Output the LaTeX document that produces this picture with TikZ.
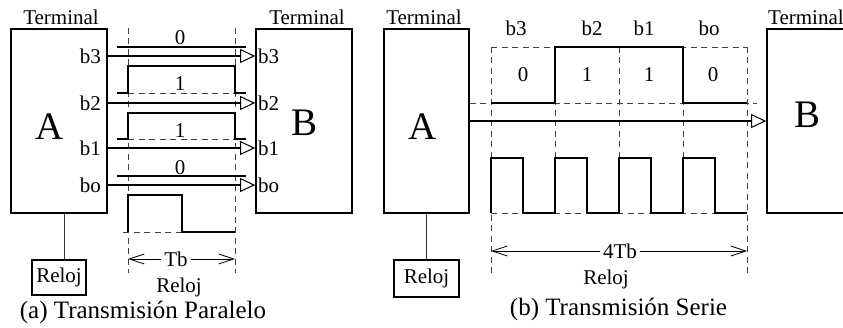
\documentclass[tikz,border=0pt]{standalone}
\usepackage{fontspec}
\setmainfont{Liberation Serif}
\usetikzlibrary{arrows.meta}
\newcommand\fsz[1]{\fontsize{#1}{#1}\selectfont}
\begin{document}
\begin{tikzpicture}[x=1pt,y=-1pt,
  box/.style={draw, line width=1.8pt, inner sep=0pt, rectangle},
  wave/.style={line width=1.8pt},
  guide/.style={draw=black!75, line width=0.8pt, dash pattern=on 6pt off 4.5pt},
  dim/.style={line width=0.8pt, {Straight Barb[length=15pt,width=10pt]}-{Straight Barb[length=15pt,width=10pt]}},
  sig/.style={line width=1.8pt, -{Triangle[open, length=15pt, width=14pt, line width=1pt, fill=white]}},
  conn/.style={draw=black!80, line width=1pt},
  lbl/.style={inner sep=0pt, font=\fsz{21}},
  big/.style={inner sep=0pt, font=\fsz{39}},
  captxt/.style={inner sep=0pt, font=\fsz{25}, anchor=base}]
\useasboundingbox (0,0) rectangle (843,328);

% ---------------- (a) parallel ----------------
\draw[guide] (128,28) -- (128,273);
\draw[guide] (235,28) -- (235,273);

\node[box, minimum width=96pt, minimum height=184pt] (A1) at (59,121) {};
\node[box, minimum width=96pt, minimum height=184pt] (B1) at (304,121) {};
\node[lbl, anchor=base] (tA1) at (61,25) {Terminal};
\node[lbl, anchor=base] (tB1) at (307,25) {Terminal};
\node[big] (LA1) at (50,127) {A};
\node[big] (LB1) at (305,123) {B};

\foreach \y/\t [count=\i] in {56/b3,103/b2,148/b1,185/bo} {
  \node[lbl, anchor=east] (la\i) at (101,\y) {\t};
  \node[lbl, anchor=west] (lb\i) at (258,\y) {\t};
  \draw[sig] (A1.east |- 0,\y) -- (B1.west |- 0,\y);
}

\draw[wave] (117,47) -- (246,47);
\node[lbl] (d0a) at (180,38) {0};
\draw[guide] (128,93) -- (235,93);
\draw[wave] (117,93) -- (128,93) -- (128,66) -- (235,66) -- (235,93) -- (246,93);
\node[lbl] (d1a) at (180,84) {1};
\draw[guide] (128,139) -- (235,139);
\draw[wave] (117,139) -- (128,139) -- (128,113) -- (235,113) -- (235,139) -- (246,139);
\node[lbl] (d2a) at (180,131) {1};
\draw[wave] (117,176) -- (246,176);
\node[lbl] (d3a) at (180,168) {0};

\draw[guide] (123,232) -- (182,232);
\draw[wave] (128,232) -- (128,195) -- (182,195) -- (182,232) -- (235,232);

\coordinate (tbL) at (128,259);
\coordinate (tbR) at (235,259);
\draw[dim] (tbL) -- (tbR);
\node[lbl, fill=white, inner xsep=3pt] (tb) at (176,259) {Tb};
\node[lbl, anchor=base] (rl1) at (179,293) {Reloj};

\node[box, minimum width=54pt, minimum height=35pt, font=\fsz{21}] (R1) at (59,277.5) {Reloj};
\draw[conn] (A1.south -| 64,0) -- (R1.north -| 64,0);

\node[captxt] (capa) at (143,319) {(a) Transmisión Paralelo};

% ---------------- (b) serial ----------------
\draw[guide] (491,47) -- (491,278);
\draw[guide] (747,47) -- (747,278);
\draw[guide] (555,47) -- (555,158);
\draw[guide] (619,47) -- (619,158);
\draw[guide] (683,47) -- (683,158);
\draw[guide] (491,47) -- (747,47);

\node[box, minimum width=85pt, minimum height=184pt] (A2) at (426.5,121) {};
\node[box, minimum width=110pt, minimum height=184pt] (B2) at (822,121) {};
\node[lbl, anchor=base] (tA2) at (424,25) {Terminal};
\node[lbl, anchor=base west] (tB2) at (768,25) {Terminal};
\node[big] (LA2) at (423,127) {A};
\node[big] (LB2) at (807,115) {B};

\draw[guide] (A2.east |- 0,103) -- (757,103);
\draw[wave] (491,103) -- (555,103) -- (555,47) -- (683,47) -- (683,103) -- (747,103);
\draw[sig] (A2.east |- 0,121) -- (B2.west |- 0,121);

\node[lbl] (s3) at (516,28) {b3};
\node[lbl] (s2) at (592,28) {b2};
\node[lbl] (s1) at (644,28) {b1};
\node[lbl] (s0) at (709,28) {bo};
\node[lbl] (v3) at (523,75) {0};
\node[lbl] (v2) at (587,75) {1};
\node[lbl] (v1) at (649,75) {1};
\node[lbl] (v0) at (713,75) {0};

\draw[guide] (491,213) -- (747,213);
\draw[wave] (491,213) -- (491,158) -- (523,158) -- (523,213) -- (555,213) -- (555,158)
  -- (587,158) -- (587,213) -- (619,213) -- (619,158) -- (651,158) -- (651,213)
  -- (683,213) -- (683,158) -- (715,158) -- (715,213) -- (747,213);

\coordinate (fbL) at (491,251);
\coordinate (fbR) at (747,251);
\draw[dim] (fbL) -- (fbR);
\node[lbl, fill=white, inner xsep=3pt] (ftb) at (620,251) {4Tb};
\node[lbl, anchor=base] (rl2) at (606,285) {Reloj};

\node[box, minimum width=65pt, minimum height=37pt, font=\fsz{21}] (R2) at (426.5,278.5) {Reloj};
\draw[conn] (A2.south) -- (R2.north);

\node[captxt] (capb) at (618.5,316) {(b) Transmisión Serie};
\end{tikzpicture}
\end{document}
